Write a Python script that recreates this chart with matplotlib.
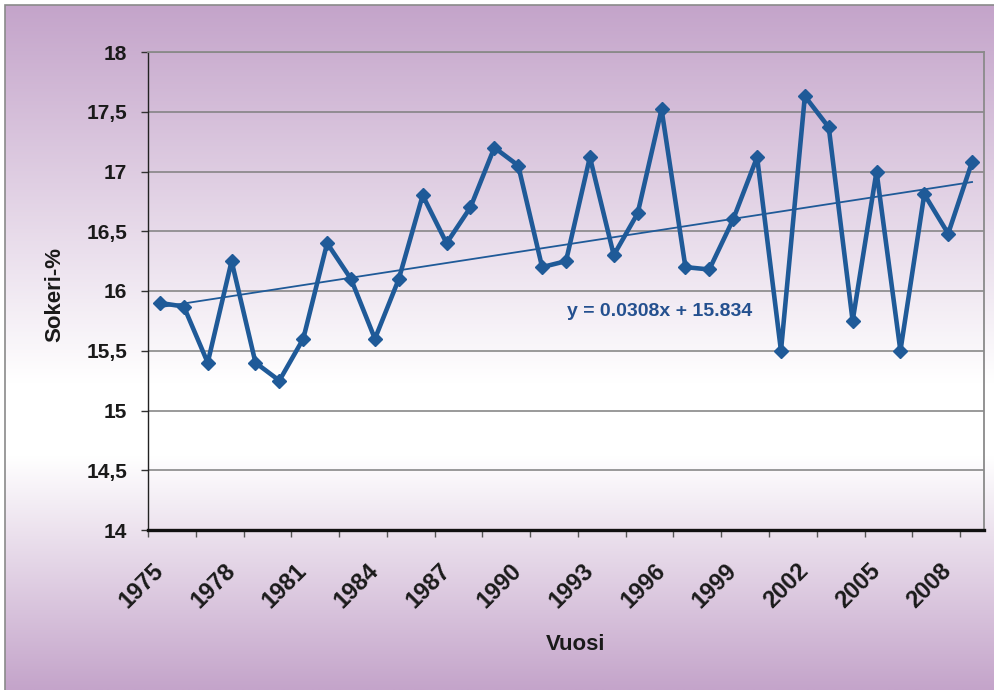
import numpy as np
import matplotlib
matplotlib.use("Agg")
import matplotlib.pyplot as plt
from matplotlib.patches import Rectangle

# ---- data ----
years = list(range(1975, 2010))
sugar = [15.90, 15.87, 15.40, 16.25, 15.40, 15.25, 15.60, 16.40, 16.10, 15.60,
         16.10, 16.80, 16.40, 16.70, 17.20, 17.05, 16.20, 16.25, 17.12, 16.30,
         16.65, 17.52, 16.20, 16.18, 16.60, 17.12, 15.50, 17.63, 17.37, 15.75,
         17.00, 15.50, 16.81, 16.48, 17.08]
trend_slope = 0.0308
trend_intercept = 15.834
trend_label = "y = 0.0308x + 15.834"
y_ticks = [14, 14.5, 15, 15.5, 16, 16.5, 17, 17.5, 18]
y_tick_labels = ["14", "14,5", "15", "15,5", "16", "16,5", "17", "17,5", "18"]
x_label_years = years[::3]
x_label = "Vuosi"
y_label = "Sokeri-%"

W, H = 995, 690
plt.rcParams['font.family'] = ['Liberation Sans', 'DejaVu Sans']
fig = plt.figure(figsize=(W / 100, H / 100), dpi=100, facecolor='white')

# ---- background gradient ----
bg = fig.add_axes([5 / W, 0, 1 - 5 / W, 1 - 5 / H], zorder=-10)
purple = np.array([196, 164, 202]) / 255.0
white = np.array([1.0, 1.0, 1.0])
n = 400
t = np.linspace(0, 1, n)
stops_pos = [0.0, 0.55, 0.66, 1.0]
cols = np.zeros((n, 3))
for c in range(3):
    cols[:, c] = np.interp(t, stops_pos, [purple[c], white[c], white[c], purple[c]])
img = np.repeat(cols[:, None, :], 2, axis=1)
bg.imshow(img, aspect='auto', extent=[0, 1, 0, 1], origin='upper')
bg.set_xlim(0, 1)
bg.set_ylim(0, 1)
bg.axis('off')
fig.patches.append(Rectangle((5 / W, -0.01), 1.02, 1 - 5 / H + 0.01, transform=fig.transFigure,
                             fill=False, edgecolor='#8a8a8a', linewidth=1.2, zorder=-5))

# ---- main axes ----
ax = fig.add_axes([148 / W, 1 - 530 / H, (984 - 148) / W, (530 - 52) / H])
ax.set_facecolor('none')

x = np.arange(len(years))
blue = '#1f5a98'
trend = [trend_slope * (i + 1) + trend_intercept for i in x]
ax.plot(x, trend, color=blue, linewidth=1.3, zorder=3)
ax.plot(x, sugar, color=blue, linewidth=3.3, marker='D', markersize=7.5,
        markeredgecolor=blue, markerfacecolor=blue, zorder=4)

ax.set_xlim(-0.5, len(years) - 0.5)
ax.set_ylim(14, 18)
ax.set_yticks(y_ticks)
ax.set_yticklabels(y_tick_labels, fontsize=15, fontweight='bold', color='#1a1a1a')
ax.yaxis.grid(True, color='#7f7f7f', linewidth=1.1)
ax.set_axisbelow(True)
ax.tick_params(axis='y', direction='out', length=5, width=1, color='#333333', pad=10)

label_pos = [years.index(yr) for yr in x_label_years]
ax.set_xticks(label_pos)
ax.set_xticklabels([str(yr) for yr in x_label_years], rotation=45, ha='right', va='center',
                   rotation_mode='anchor', fontsize=17, fontweight='bold', color='#1a1a1a')
ax.set_xticks(np.arange(-0.5, len(years) - 0.5, 2), minor=True)
ax.tick_params(axis='x', which='major', length=0, pad=27)
ax.tick_params(axis='x', which='minor', direction='out', length=5, width=1, color='#555555')

for side in ['top', 'right']:
    ax.spines[side].set_color('#8a8a8a')
    ax.spines[side].set_linewidth(1.3)
ax.spines['left'].set_color('#222222')
ax.spines['left'].set_linewidth(1.0)
ax.spines['bottom'].set_color('#111111')
ax.spines['bottom'].set_linewidth(2.4)

ax.text(0.612, 0.458, trend_label, transform=ax.transAxes, ha='center', va='center',
        fontsize=14, fontweight='bold', color='#24508f', zorder=5)

fig.text(55 / W, 1 - 294 / H, y_label, rotation=90, ha='center', va='center',
         fontsize=16, fontweight='bold', color='#1a1a1a')
fig.text(576 / W, 1 - 644 / H, x_label, ha='center', va='center',
         fontsize=16, fontweight='bold', color='#1a1a1a')

fig.savefig('out.png', dpi=100, facecolor='white')
